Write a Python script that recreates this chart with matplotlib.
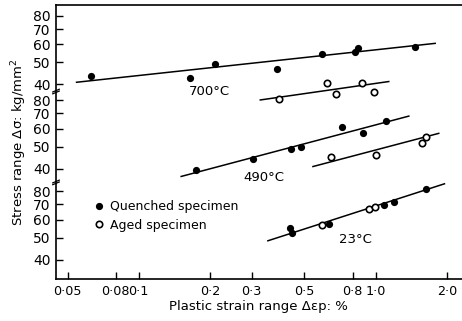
import numpy as np
import matplotlib
matplotlib.use("Agg")
import matplotlib.pyplot as plt

# plastic strain range (%) vs stress range (kg/mm2)
q700_x = [0.063, 0.164, 0.21, 0.382, 0.596, 0.815, 0.842, 1.465]
q700_y = [43.7, 42.7, 49.0, 46.8, 54.3, 55.5, 57.8, 58.3]
a700_x = [0.391, 0.623, 0.678, 0.879, 0.981]
a700_y = [34.4, 40.8, 36.3, 40.5, 37.2]

q490_x = [0.174, 0.304, 0.439, 0.486, 0.721, 0.884, 1.102]
q490_y = [39.3, 44.1, 49.0, 49.7, 61.1, 57.2, 64.8]
a490_x = [0.646, 1.007, 1.568, 1.626]
a490_y = [45.0, 46.0, 51.7, 55.0]

q23_x = [0.436, 0.444, 0.637, 1.091, 1.198, 1.634]
q23_y = [54.9, 52.3, 57.5, 69.6, 71.4, 81.4]
a23_x = [0.593, 0.934, 0.995]
a23_y = [56.8, 66.7, 68.0]

# straight lines drawn through each set (end points)
fit700q = ([0.0546, 1.786], [40.9, 60.6])
fit700a = ([0.326, 1.137], [34.2, 41.2])
fit490q = ([0.151, 1.382], [37.0, 68.1])
fit490a = ([0.544, 1.849], [40.9, 57.2])
fit23 = ([0.351, 1.955], [48.4, 86.1])

xtick_vals = [0.05, 0.08, 0.1, 0.2, 0.3, 0.5, 0.8, 1.0, 2.0]
xtick_labels = ["0·05", "0·08", "0·1", "0·2", "0·3", "0·5", "0·8", "1·0", "2·0"]
ytick_vals = [40, 50, 60, 70, 80]

# each temperature gets its own stacked log band on the y axis
shift = {"700": 0.769, "490": 0.399, "23": 0.0}
breaks = [2.346, 1.947]


def Y(s, k):
    return np.log10(np.asarray(s, dtype=float)) + shift[k]


fig = plt.figure(figsize=(4.62, 3.21), dpi=100)
ax = fig.add_axes([0.1212, 0.1308, 0.878, 0.853])

lw = 1.1
for k, fq, fa, qx, qy, axx, ay in [
    ("700", fit700q, fit700a, q700_x, q700_y, a700_x, a700_y),
    ("490", fit490q, fit490a, q490_x, q490_y, a490_x, a490_y),
]:
    ax.plot(fq[0], Y(fq[1], k), color="black", lw=lw)
    ax.plot(fa[0], Y(fa[1], k), color="black", lw=lw)
    ax.plot(qx, Y(qy, k), "o", color="black", ms=5.2, mew=0)
    ax.plot(axx, Y(ay, k), "o", mfc="white", mec="black", ms=4.6, mew=1.2)

ax.plot(fit23[0], Y(fit23[1], "23"), color="black", lw=lw)
ax.plot(q23_x, Y(q23_y, "23"), "o", color="black", ms=5.2, mew=0,
        label="Quenched specimen")
ax.plot(a23_x, Y(a23_y, "23"), "o", mfc="white", mec="black", ms=4.6,
        mew=1.2, label="Aged specimen")

# temperature labels
ax.text(0.199, Y(37.4, "700"), "700°C", ha="center", va="center", fontsize=9.5)
ax.text(0.337, Y(36.7, "490"), "490°C", ha="center", va="center", fontsize=9.5)
ax.text(0.823, Y(48.8, "23"), "23°C", ha="center", va="center", fontsize=9.5)

ax.set_xscale("log")
ax.set_xlim(0.0447, 2.31)
ax.set_ylim(1.517, 2.719)
ax.set_xticks(xtick_vals)
ax.set_xticklabels(xtick_labels)
ax.xaxis.set_minor_locator(matplotlib.ticker.NullLocator())

yt, yl = [], []
for k in ["700", "490", "23"]:
    for v in ytick_vals:
        yt.append(float(Y(v, k)))
        yl.append(str(v))
ax.set_yticks(yt)
ax.set_yticklabels(yl)

ax.tick_params(axis="both", direction="in", length=5, width=1.0,
               labelsize=10, colors="black")
ax.tick_params(axis="x", pad=4, labelsize=9.2)
ax.tick_params(axis="y", pad=4)

ax.spines["right"].set_visible(False)
for s in ["left", "bottom", "top"]:
    ax.spines[s].set_linewidth(1.2)

# little break marks on the stress axis
tr = ax.get_yaxis_transform()
for b in breaks:
    ax.plot([-0.008, 0.008], [b - 0.008, b + 0.004], color="black", lw=0.9,
            transform=tr, clip_on=False)
    ax.plot([-0.008, 0.008], [b - 0.016, b - 0.004], color="black", lw=0.9,
            transform=tr, clip_on=False)

ax.set_xlabel("Plastic strain range Δεp: %", fontsize=9.5, labelpad=2)
ax.set_ylabel("Stress range Δσ: kg/mm$^2$", fontsize=9.5, labelpad=3)

ax.legend(loc="upper left", bbox_to_anchor=(0.085, 0.306), frameon=False,
          handlelength=0.6, handletextpad=0.6, labelspacing=0.45,
          fontsize=9, borderaxespad=0)

fig.savefig("out.png", dpi=100)
